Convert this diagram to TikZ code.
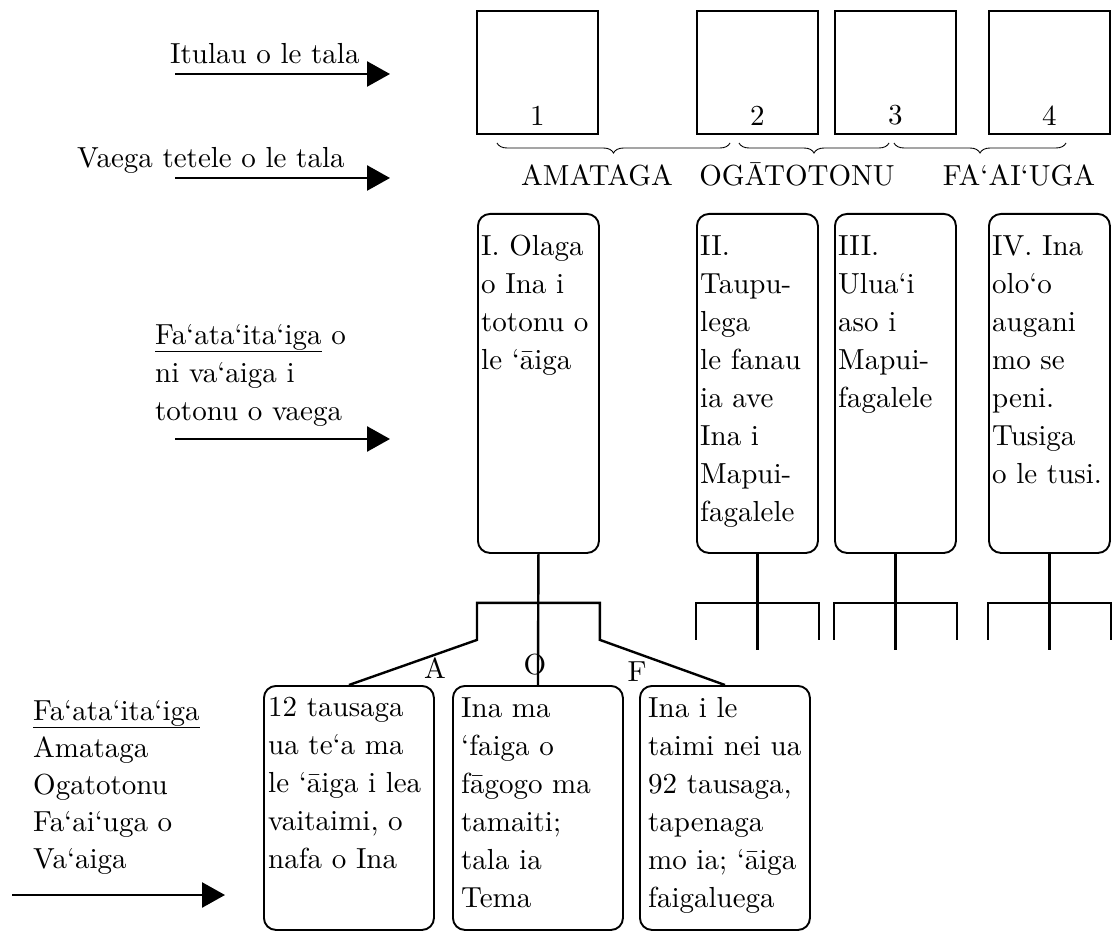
\documentclass[tikz,border=0pt]{standalone}
\usepackage{fontspec}
\setmainfont{lmroman10-regular}[Extension=.otf]
\usepackage{tikz}
\usetikzlibrary{positioning}
\usetikzlibrary{arrows.meta}
\usetikzlibrary{decorations.pathreplacing}
\tikzset{
pagebox/.style={draw,black,line width=1.7pt,minimum width=121pt,minimum height=123pt,inner sep=0pt,anchor=north west},
chapter/.style={draw,black,rounded corners=12pt,line width=1.9pt,inner sep=0pt,anchor=north west},
chapter-big/.style={chapter,minimum width=121pt,minimum height=339pt},
chapter-low/.style={chapter,minimum width=170pt,minimum height=244pt},
boxtext/.style={inner sep=0pt,align=left,anchor=north west},
sidetext/.style={inner sep=0pt,anchor=base west},
pointer/.style={black,line width=2.6pt,-{Triangle[length=23pt,width=25pt]}},
branch/.style={black,line width=2.4pt},
bracket/.style={decorate,decoration={brace,mirror,amplitude=10pt},line width=0.9pt}
}

\begin{document}
\begin{tikzpicture}[x=1pt,y=-1pt]
    \fontsize{29}{38}\selectfont
    \useasboundingbox (0,0) rectangle (1112,933);
    {
      % pages
      \foreach \x [count=\i] in {476,696,834,988}
      \node[pagebox] (p\i) at (\x,10) {};
      \foreach \i in {1,...,4}
      \node[inner sep=0pt, above=9pt of p\i.south] (n\i) {\i};
      \draw[bracket] (497,143) -- (730,143);
      \draw[bracket] (739,143) -- (889,143);
      \draw[bracket] (894,143) -- (1066,143);
      \node[inner sep=0pt, anchor=base] (amataga) at (597,186) {AMATAGA};
      \node[inner sep=0pt, anchor=base] (ogatotonu) at (797,186) {OGĀTOTONU};
      \node[inner sep=0pt, anchor=base] (faaiuga) at (1019,186) {FA‘AI‘UGA};
      %
      % chapters
      \foreach \x [count=\i] in {477,696,834,988}
      \node[chapter-big] (c\i) at (\x,213) {};
      \node[boxtext, below right=22pt and 4pt of c1.north west] (c1t) {I. Olaga\\o Ina i\\totonu o\\le ‘āiga};
      \node[boxtext, below right=22pt and 4pt of c2.north west] (c2t) {II.\\Taupu-\\lega\\le fanau\\ia ave\\Ina i\\Mapui-\\fagalele};
      \node[boxtext, below right=22pt and 4pt of c3.north west] (c3t) {III.\\Ulua‘i\\aso i\\Mapui-\\fagalele};
      \node[boxtext, below right=22pt and 4pt of c4.north west] (c4t) {IV. Ina\\olo‘o\\augani\\mo se\\peni.\\Tusiga\\o le tusi.};
      %
      % scenes of chapter I
      \node[chapter-low] (sa) at (263,685) {};
      \node[chapter-low] (so) at (452,685) {};
      \node[chapter-low] (sf) at (639,685) {};
      \node[boxtext, below right=12pt and 5pt of sa.north west] (sat) {12 tausaga\\ua te‘a ma\\le ‘āiga i lea\\vaitaimi, o\\nafa o Ina};
      \node[boxtext, below right=12pt and 9pt of so.north west] (sot) {Ina ma\\‘faiga o\\fāgogo ma\\tamaiti;\\tala ia\\Tema};
      \node[boxtext, below right=12pt and 9pt of sf.north west] (sft) {Ina i le\\taimi nei ua\\92 tausaga,\\tapenaga\\mo ia; ‘āiga\\faigaluega};
      %
      \foreach \i in {1,...,4}
      {
        \coordinate[below=49pt of c\i.south west] (bl\i);
        \coordinate[below=49pt of c\i.south east] (br\i);
        \coordinate[below=86pt of c\i.south west] (kl\i);
        \coordinate[below=86pt of c\i.south east] (kr\i);
        \coordinate[below=96pt of c\i.south] (km\i);
      }
      \draw[branch] (sa.north) -- (kl1) -- (bl1) -- (br1) -- (kr1) -- (sf.north);
      \draw[branch] (c1.south) -- (so.north);
      \foreach \i in {2,3,4}
      {
        \draw[branch] (kl\i) -- (bl\i) -- (br\i) -- (kr\i);
        \draw[branch] (c\i.south) -- (km\i);
      }
      \node[inner sep=0pt, anchor=base] (la) at (435,678) {A};
      \node[inner sep=0pt, anchor=base] (lo) at (535,674) {O};
      \node[inner sep=0pt, anchor=base] (lf) at (637,681) {F};
      %
      % legend on the left
      \node[sidetext] (itulau) at (170,64) {Itulau o le tala};
      \node[sidetext] (vaega) at (77,168) {Vaega tetele o le tala};
      \node[boxtext] (vaaiga) at (155,324) {\underline{Fa‘ata‘ita‘iga} o\\ni va‘aiga i\\totonu o vaega};
      \node[boxtext, font=\fontsize{29}{37}\selectfont] (fata) at (33,700) {\underline{Fa‘ata‘ita‘iga}\\Amataga\\Ogatotonu\\Fa‘ai‘uga o\\Va‘aiga};
      \coordinate (a1s) at (175,74);  \coordinate (a1e) at (390,74);
      \coordinate (a2s) at (175,178); \coordinate (a2e) at (390,178);
      \coordinate (a3s) at (175,439); \coordinate (a3e) at (390,439);
      \coordinate (a4s) at (12,895);  \coordinate (a4e) at (225,895);
      \foreach \u / \v in {a1s/a1e,a2s/a2e,a3s/a3e,a4s/a4e}
      \draw[pointer] (\u) -- (\v);
    }
\end{tikzpicture}
\end{document}
